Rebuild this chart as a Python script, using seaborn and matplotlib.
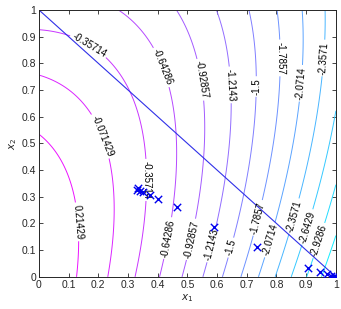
import numpy as np
import pandas as pd
import seaborn as sns
import matplotlib
matplotlib.use("Agg")
import matplotlib.pyplot as plt

# objective f = c0 + c1*x1 + c2*x1^2 + c3*x1*x2 + c4*x2^2
coef = [0.5, -2.0, -2.0, 2.0, -1.0]
n_levels = 15

# constraint line x1 + x2 = 1
line_x1 = [0.0, 1.0]
line_x2 = [1.0, 0.0]

# iterates
iter_x1 = [0.329, 0.334, 0.340, 0.351, 0.374, 0.400, 0.466, 0.590, 0.735,
           0.907, 0.946, 0.969, 0.985, 0.993, 0.998, 1.0]
iter_x2 = [0.326, 0.332, 0.322, 0.317, 0.307, 0.292, 0.260, 0.188, 0.113,
           0.033, 0.020, 0.010, 0.004, 0.002, 0.001, 0.0]

sns.set_style("ticks")
plt.rcParams["font.family"] = ["Liberation Sans", "DejaVu Sans"]
plt.rcParams["xtick.direction"] = "in"
plt.rcParams["ytick.direction"] = "in"

fig = plt.figure(figsize=(3.41, 3.09), dpi=100)
ax = fig.add_axes([0.114, 0.104, 0.871, 0.864])

g = np.linspace(0, 1, 301)
X1, X2 = np.meshgrid(g, g)
F = coef[0] + coef[1]*X1 + coef[2]*X1**2 + coef[3]*X1*X2 + coef[4]*X2**2
levels = np.linspace(F.min(), F.max(), n_levels)

cs = ax.contour(X1, X2, F, levels=levels, cmap="cool", linewidths=0.7,
                vmin=levels[0], vmax=levels[-1])

# where the labels sit (layout only)
label_spots = [
    (0.128, 0.206), (0.246, 0.543), (0.165, 0.861), (0.357, 0.363),
    (0.418, 0.787), (0.431, 0.146), (0.542, 0.738), (0.519, 0.139),
    (0.643, 0.719), (0.586, 0.120), (0.727, 0.713), (0.649, 0.109),
    (0.811, 0.820), (0.737, 0.221), (0.884, 0.725), (0.778, 0.139),
    (0.957, 0.820), (0.845, 0.232), (0.901, 0.188), (0.935, 0.139),
]
ax.clabel(cs, fmt=lambda v: f"{v:.5g}", fontsize=7, colors="k",
          inline=True, inline_spacing=2, manual=label_spots)

sns.lineplot(x=line_x1, y=line_x2, ax=ax, color="#3030e8", lw=0.8)
pts = pd.DataFrame({"x1": iter_x1, "x2": iter_x2})
sns.scatterplot(data=pts, x="x1", y="x2", ax=ax, marker="x", color="#0000ee",
                s=28, linewidth=1.0, zorder=5)

ax.set_xlim(0, 1)
ax.set_ylim(0, 1)
ticks = np.round(np.arange(0, 1.01, 0.1), 1)
ax.set_xticks(ticks)
ax.set_yticks(ticks)
ax.set_xticklabels([f"{t:g}" for t in ticks])
ax.set_yticklabels([f"{t:g}" for t in ticks])
ax.tick_params(labelsize=7.5, length=3, width=0.6, top=True, right=True, pad=2)
for s in ax.spines.values():
    s.set_linewidth(0.7)
ax.set_xlabel("$x_1$", fontsize=7.5, labelpad=2)
ax.set_ylabel("$x_2$", fontsize=7.5, labelpad=2)

fig.savefig("out.png", dpi=100)
